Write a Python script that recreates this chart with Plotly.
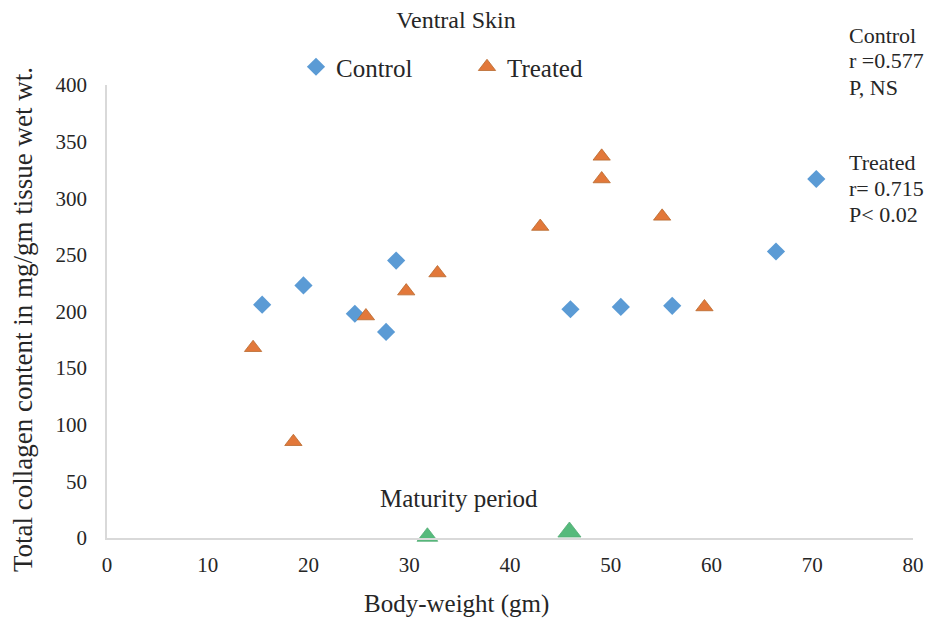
import plotly.graph_objects as go

# Data
control_x = [15.4, 19.5, 24.6, 27.7, 28.7, 46.0, 51.0, 56.1, 66.4, 70.4]
control_y = [206, 223, 198, 182, 245, 202, 204, 205, 253, 317]

treated_x = [14.5, 18.5, 25.7, 29.7, 32.8, 43.0, 49.1, 49.1, 55.1, 59.3]
treated_y = [168, 85, 196, 218, 234, 275, 317, 337, 284, 204]

maturity_x = [31.8, 45.9]
maturity_y = [1.1, 5.3]

x_ticks = [0, 10, 20, 30, 40, 50, 60, 70, 80]
y_ticks = [0, 50, 100, 150, 200, 250, 300, 350, 400]

control_stats = ["Control", "r =0.577", "P, NS"]
treated_stats = ["Treated", "r= 0.715", "P< 0.02"]

FONT = "Liberation Serif"
TXT = "#262626"

# page offset (body margin 8px): plot area in page px is 107..913 x 85..538
PL, PR, PT, PB = 107, 913, 85, 538


def px_x(p):
    return (p - PL) / (PR - PL)


def px_y(p):
    return (PB - p) / (PB - PT)


fig = go.Figure()
fig.add_trace(go.Scatter(
    x=control_x, y=control_y, mode="markers", name="Control",
    marker=dict(symbol="diamond", size=14, color="#5b9bd5"),
    cliponaxis=False))
fig.add_trace(go.Scatter(
    x=treated_x, y=treated_y, mode="markers", name="Treated",
    marker=dict(symbol="triangle-up", size=15, color="#e2783a",
                line=dict(color="#b8692f", width=0.8)),
    cliponaxis=False))
fig.add_trace(go.Scatter(
    x=maturity_x, y=maturity_y, mode="markers", name="Maturity period",
    showlegend=False,
    marker=dict(symbol="triangle-up", size=[18, 20], color="#0f9d45",
                line=dict(color="#0c8a3c", width=0.8)),
    cliponaxis=False))

fig.update_layout(
    width=927, height=613,
    margin=dict(l=99, r=22, t=77, b=83, autoexpand=False),
    paper_bgcolor="white", plot_bgcolor="white",
    font=dict(family=FONT, size=21, color=TXT),
    title=dict(text="Ventral Skin", x=(456 - 8) / 927, xanchor="center",
               y=1 - (20 - 8) / 613, yanchor="middle",
               font=dict(family=FONT, size=24, color=TXT)),
    legend=dict(orientation="h", x=px_x(296), xanchor="left",
                y=px_y(67), yanchor="middle", entrywidth=126,
                font=dict(family=FONT, size=25, color=TXT),
                bgcolor="rgba(0,0,0,0)", itemwidth=30),
    showlegend=True,
)
fig.update_xaxes(range=[0, 80], tickvals=x_ticks, showgrid=False, zeroline=False,
                 showline=True, linecolor="#d9d9d9", linewidth=1.5,
                 ticks="", tickfont=dict(size=21), ticklabelstandoff=7,
                 automargin=False)
fig.update_yaxes(range=[0, 400], tickvals=y_ticks, showgrid=False, zeroline=False,
                 showline=True, linecolor="#d9d9d9", linewidth=1.5,
                 ticks="", tickfont=dict(size=21), ticklabelstandoff=14,
                 automargin=False)

# axis titles
fig.add_annotation(text="Body-weight (gm)", x=px_x(456), y=px_y(604),
                   xref="paper", yref="paper", xanchor="center", yanchor="middle",
                   showarrow=False, font=dict(size=25, color=TXT))
fig.add_annotation(text="Total collagen content in mg/gm tissue wet wt.",
                   x=px_x(23), y=px_y(320), textangle=-90,
                   xref="paper", yref="paper", xanchor="center", yanchor="middle",
                   showarrow=False, font=dict(size=27, color=TXT))

fig.add_annotation(text="Maturity period", x=34.9, y=35, xref="x", yref="y",
                   showarrow=False, font=dict(size=25, color=TXT))
for i, t in enumerate(control_stats):
    fig.add_annotation(text=t, x=px_x(847), y=px_y(35 + 26 * i),
                       xref="paper", yref="paper", xanchor="left", yanchor="middle",
                       align="left", showarrow=False, font=dict(size=22, color=TXT))
for i, t in enumerate(treated_stats):
    fig.add_annotation(text=t, x=px_x(847), y=px_y(162 + 26 * i),
                       xref="paper", yref="paper", xanchor="left", yanchor="middle",
                       align="left", showarrow=False, font=dict(size=22, color=TXT))

fig.write_html("out.html")
